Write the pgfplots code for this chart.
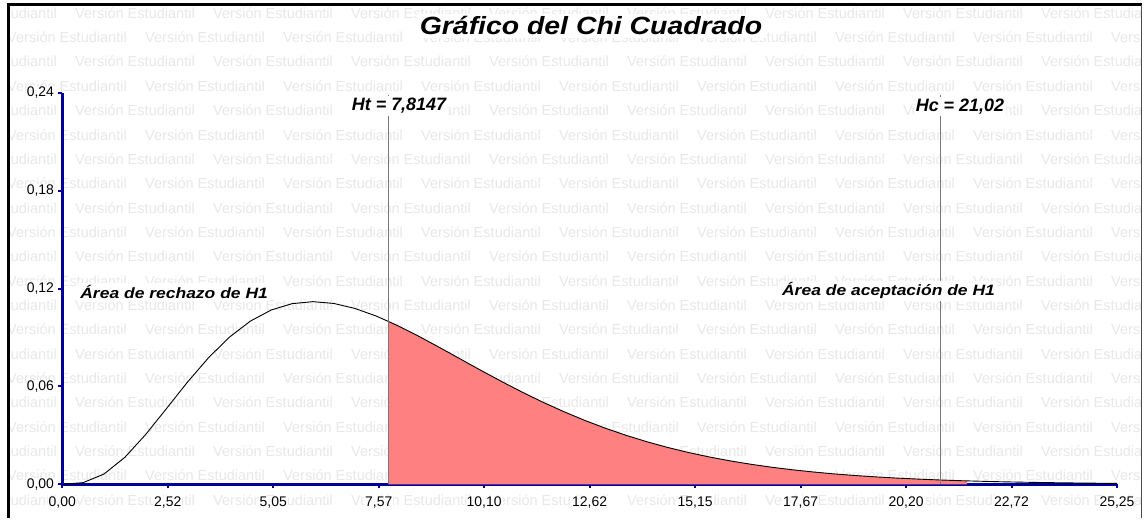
\documentclass[border=0pt]{standalone}
\usepackage{pgfplots}
\pgfplotsset{compat=1.18}
\usepackage{fontspec}
\setmainfont{Liberation Sans}
\newfontfamily\titlefont[FakeStretch=1.14]{Liberation Sans}
\newfontfamily\areafont[FakeStretch=1.17]{Liberation Sans}
\definecolor{navy}{RGB}{0,0,153}
\definecolor{fillred}{RGB}{255,128,128}
\definecolor{wm}{RGB}{232,232,232}
\definecolor{vline}{RGB}{120,120,120}

\begin{document}
\begin{tikzpicture}[x=1bp,y=1bp]
\fill[white] (0,0) rectangle (1144,518);
\begin{scope}
\clip (10,0) rectangle (1141,511);
\foreach \k in {0,...,20}{
  \pgfmathsetmacro{\yy}{518-13-24.35*\k}
  \pgfmathsetmacro{\xs}{mod(\k,2)==0 ? -63 : 7}
  \foreach \j in {0,...,8}{
    \node[anchor=west, inner sep=0, text=wm, font=\fontsize{14.6}{16}\selectfont] at (\xs+138*\j, \yy) {Versión Estudiantil};
  }
}
\end{scope}

\begin{axis}[
  at={(62.3bp,33.7bp)}, anchor=south west,
  scale only axis, width=1054.7bp, height=391.3bp,
  xmin=0, xmax=25.25, ymin=0, ymax=0.24,
  axis lines*=left,
  axis line style={navy, line width=3bp},
  xtick={0,2.525,5.05,7.575,10.1,12.625,15.15,17.675,20.2,22.725,25.25},
  xticklabels={{0,00},{2,52},{5,05},{7,57},{10,10},{12,62},{15,15},{17,67},{20,20},{22,72},{25,25}},
  ytick={0,0.06,0.12,0.18,0.24},
  yticklabels={{0,00},{0,06},{0,12},{0,18},{0,24}},
  tick align=outside, major tick length=4bp,
  tick style={navy, line width=2bp},
  ticklabel style={font=\fontsize{14}{16}\selectfont, text=black, fill=white, inner sep=1bp},
  xticklabel style={yshift=-7.5bp},
  yticklabel style={xshift=-3.2bp},
  clip=false,
]
% shaded region (Ht to ~Hc)
\addplot[fill=fillred, draw=none] coordinates {
 (7.8147,0) (7.8147,0.0999) (8,0.09768) (8.5,0.09125) (9,0.08436) (9.5,0.07727)
 (10,0.07019) (10.5,0.06328) (11,0.05666) (11.5,0.05042) (12,0.04462) (12.5,0.03928)
 (13,0.03441) (13.5,0.03001) (14,0.02606) (14.5,0.02255) (15,0.01944) (15.5,0.01671)
 (16,0.01431) (16.5,0.01223) (17,0.01041) (17.5,0.008846) (18,0.007497) (18.5,0.006339)
 (19,0.005348) (19.5,0.004503) (20,0.003783) (20.5,0.003173) (21,0.002656) (21.5,0.00222)
 (21.66,0.0021) (21.66,0)
} \closedcycle;
% curve
\addplot[black, line width=0.9bp] coordinates {
 (0,0) (0.5,0.001014) (1,0.006318) (1.5,0.016606) (2,0.030657) (2.5,0.04663)
 (3,0.062755) (3.5,0.07761) (4,0.09022) (4.5,0.10005) (5,0.10688) (5.5,0.11079)
 (6,0.11202) (6.5,0.11092) (7,0.10789) (7.5,0.10335) (8,0.09768) (8.5,0.09125)
 (9,0.08436) (9.5,0.07727) (10,0.07019) (10.5,0.06328) (11,0.05666) (11.5,0.05042)
 (12,0.04462) (12.5,0.03928) (13,0.03441) (13.5,0.03001) (14,0.02606) (14.5,0.02255)
 (15,0.01944) (15.5,0.01671) (16,0.01431) (16.5,0.01223) (17,0.01041) (17.5,0.008846)
 (18,0.007497) (18.5,0.006339) (19,0.005348) (19.5,0.004503) (20,0.003783) (20.5,0.003173)
 (21,0.002656) (21.5,0.00222) (22,0.001853) (22.5,0.001543) (23,0.001284) (23.5,0.001067)
 (24,0.000885) (24.5,0.000733) (25,0.000607) (25.25,0.00055)
};
% critical value lines
\addplot[vline, line width=1.2bp] coordinates {(7.8147,0) (7.8147,0.2388)};
\addplot[vline, line width=1.2bp] coordinates {(21.02,0) (21.02,0.2388)};
\node[fill=white, inner sep=2bp, font=\fontsize{18}{20}\selectfont\bfseries\itshape] at (axis cs:8.061,0.2321) {Ht = 7,8147};
\node[fill=white, inner sep=2bp, font=\fontsize{18}{20}\selectfont\bfseries\itshape] at (axis cs:21.49,0.2315) {Hc = 21,02};
\node[anchor=west, fill=white, inner sep=2bp, font=\areafont\fontsize{15}{17}\selectfont\bfseries\itshape] at (axis cs:0.38,0.118) {Área de rechazo de H1};
\node[anchor=west, fill=white, inner sep=2bp, font=\areafont\fontsize{15}{17}\selectfont\bfseries\itshape] at (axis cs:17.18,0.1186) {Área de aceptación de H1};
\end{axis}

\node[fill=white, inner sep=3bp, font=\titlefont\fontsize{25}{28}\selectfont\bfseries\itshape] at (591,492) {Gráfico del Chi Cuadrado};
\draw[black, line width=3bp] (8.8,0) -- (8.8,513) -- (1141.5,513);
\draw[black!70, line width=1.5bp] (1141.5,513) -- (1141.5,0);
\end{tikzpicture}
\end{document}
